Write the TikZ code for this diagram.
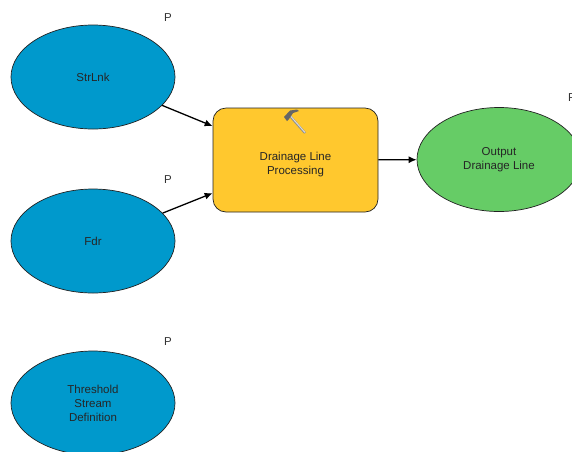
\documentclass[tikz,border=0pt]{standalone}
\usepackage{fontspec}
\setmainfont{Liberation Sans}
\usetikzlibrary{shapes.geometric, arrows.meta}

\definecolor{inputCol}{HTML}{0099CC}
\definecolor{toolCol}{HTML}{FFC82E}
\definecolor{outputCol}{HTML}{66CC66}
\definecolor{lineCol}{HTML}{222222}

\tikzset{
    dataNode/.style = {ellipse, draw=lineCol, line width=0.7pt, minimum width=164pt, minimum height=104pt, inner sep=0pt, align=center, font=\fontsize{11.5pt}{14pt}\selectfont, text=black!85},
    toolNode/.style = {rectangle, rounded corners=13pt, draw=lineCol, line width=0.7pt, fill=toolCol, minimum width=165pt, minimum height=104pt, inner sep=0pt, align=center, font=\fontsize{11.5pt}{14pt}\selectfont, text=black!85},
    paramNode/.style = {font=\fontsize{11.5pt}{14pt}\selectfont, inner sep=0pt, text=black!80},
    flowArrow/.style = {draw=black, line width=1.3pt, -{Latex[length=8pt,width=7pt]}}
}

\begin{document}
\begin{tikzpicture}[x=1pt, y=-1pt]

\useasboundingbox (0,0) rectangle (572,451);
\clip (0,0) rectangle (572,451);

% inputs
\node[dataNode, fill=inputCol] (strLnkNode) at (93,77) {StrLnk};
\node[dataNode, fill=inputCol] (fdrNode) at (93,241) {Fdr};
\node[dataNode, fill=inputCol] (threshNode) at (93,403) {Threshold\\Stream\\Definition};

% tool and output
\node[toolNode] (procNode) at (295.5,160) {\rule{0pt}{18pt}Drainage Line\\Processing};
\node[dataNode, fill=outputCol] (outNode) at (499,159.5) {Output\\Drainage Line};

% P marks
\node[paramNode] (pStrLnk) at (168,18) {P};
\node[paramNode] (pFdr) at (168,180) {P};
\node[paramNode] (pThresh) at (168,342) {P};
\node[paramNode] (pOut) at (572,98) {P};

\draw[flowArrow] (strLnkNode) -- (procNode);
\draw[flowArrow] (fdrNode) -- (procNode);
\draw[flowArrow] (procNode) -- (outNode);

% hammer
\draw[line width=2.2pt, draw=black!45] (290,116) -- (305,133);
\draw[line width=1pt, draw=white!85!black] (290.5,116) -- (305,132.5);
\fill[black!60] (284,117) -- (290,110.5) -- (297,109.5) -- (299,111) -- (293,113) -- (289,119) -- (287,121) -- cycle;

\end{tikzpicture}
\end{document}
